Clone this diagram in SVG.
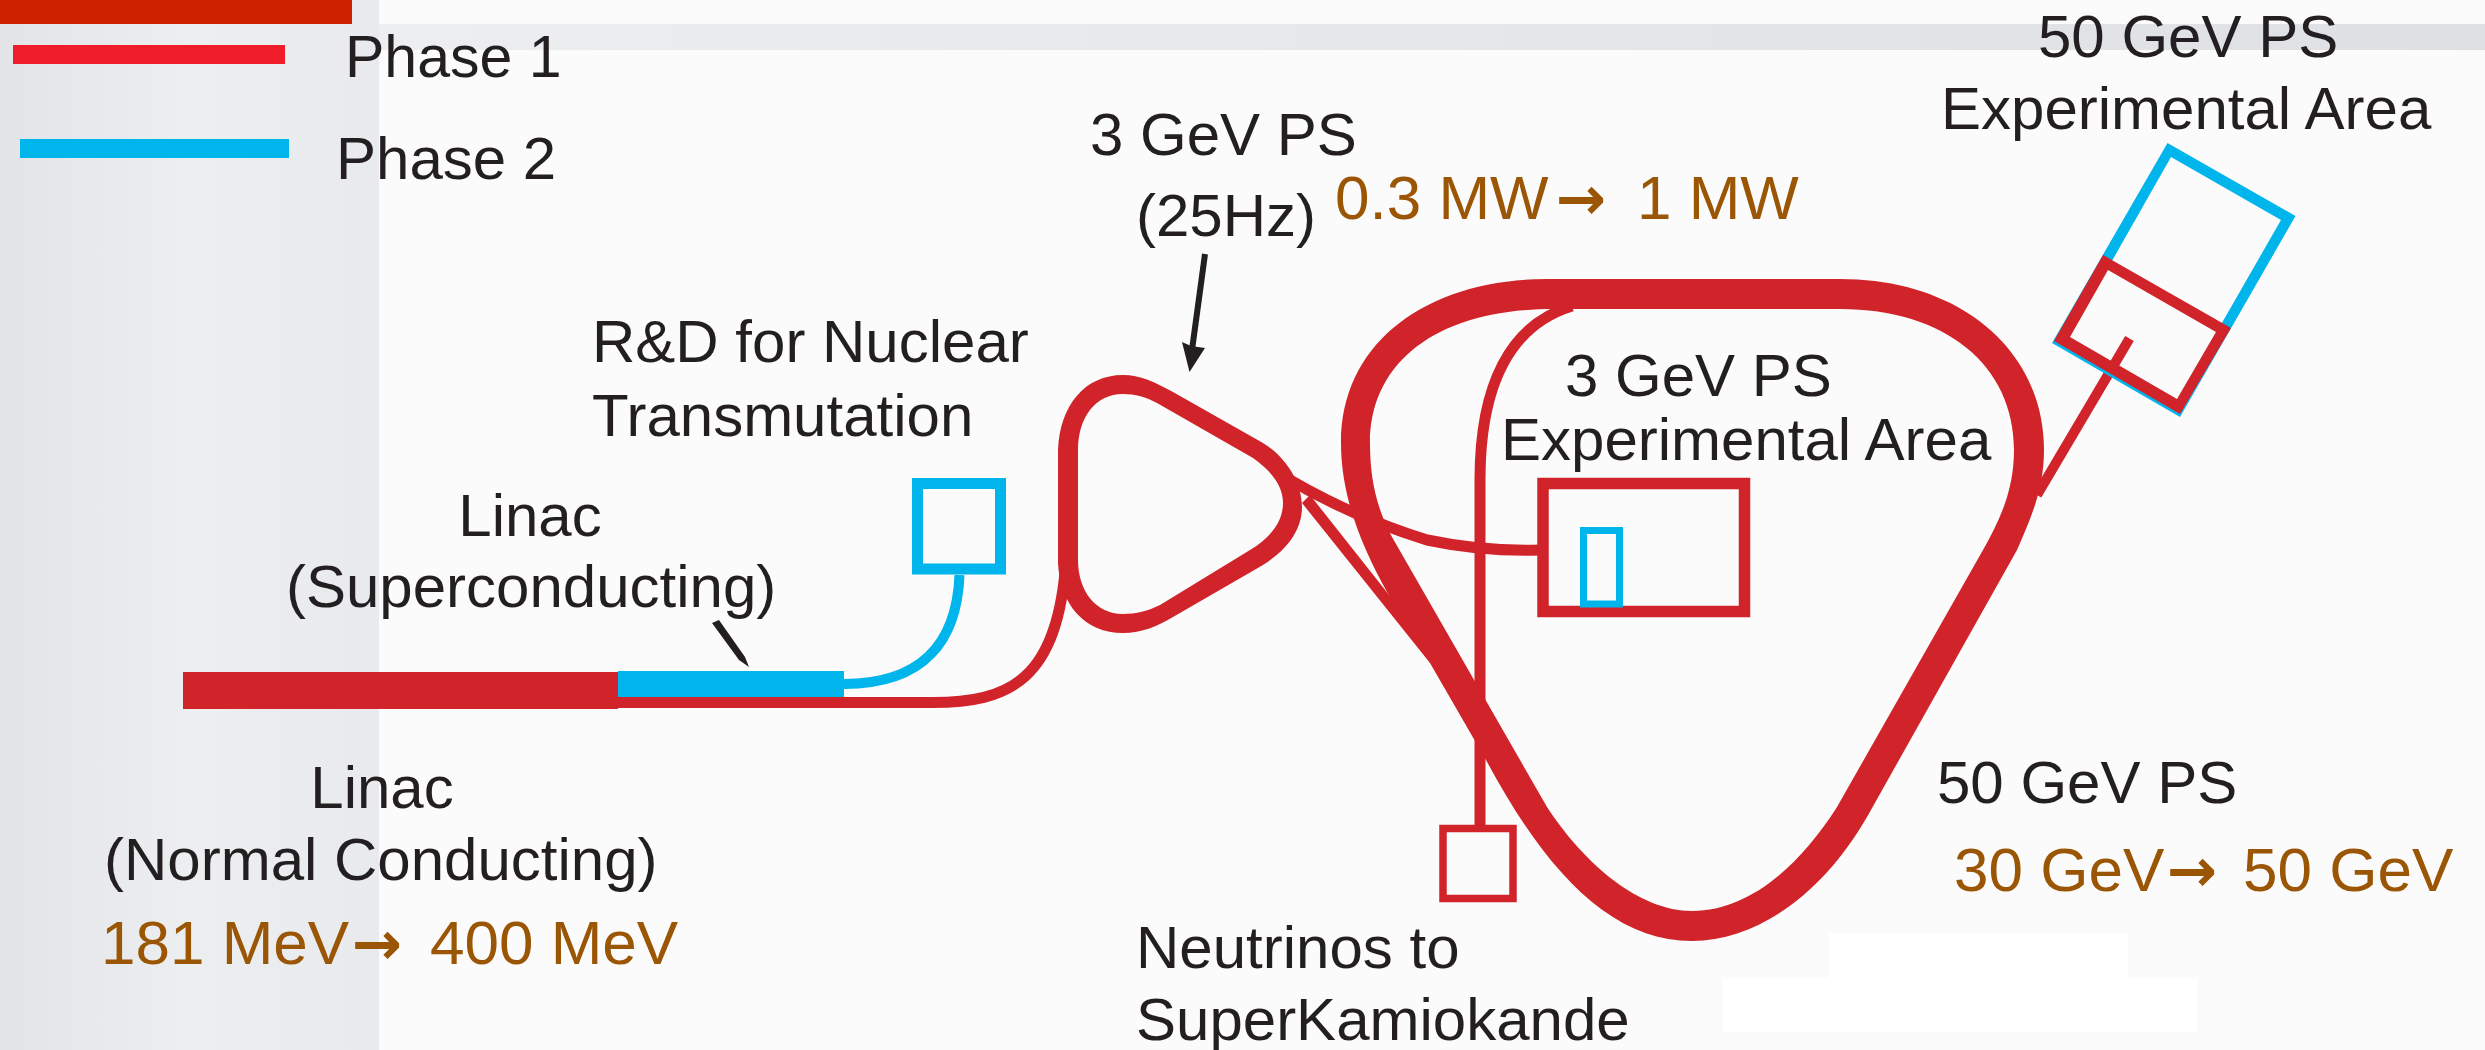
<svg xmlns="http://www.w3.org/2000/svg" width="2485" height="1050" viewBox="0 0 2485 1050">
<defs>
<linearGradient id="panel" x1="0" x2="1" y1="0" y2="0"><stop offset="0" stop-color="#e2e4e8"/><stop offset=".5" stop-color="#eceef0"/><stop offset="1" stop-color="#e8eaed"/></linearGradient>
<linearGradient id="band" x1="0" x2="1" y1="0" y2="0"><stop offset="0" stop-color="#eceef0"/><stop offset="1" stop-color="#dfe0e3"/></linearGradient>
</defs>
<style>
text{font-family:"Liberation Sans",Arial,sans-serif;font-size:60px;fill:#231f20}
.b{fill:#9a5505;font-size:62px}
.a{font-family:"DejaVu Sans",sans-serif;font-weight:bold;font-size:60px;fill:#9a5505}
.r{fill:#d1232a}
.c{fill:#00b4ec}
.ln{fill:none;stroke:#d1232a}
</style>
<rect width="2485" height="1050" fill="#fbfbfc"/>
<rect x="379" y="24" width="2106" height="26" fill="url(#band)"/>
<rect x="0" y="0" width="379" height="1050" fill="url(#panel)"/>
<rect x="1829" y="933" width="299" height="46" fill="#fff"/>
<rect x="1723" y="978" width="474" height="54" fill="#fff"/>
<g id="legend">
<rect x="0" y="0" width="352" height="24" fill="#cc2200"/>
<rect x="13" y="45" width="272" height="19" fill="#ef1c29"/>
<rect x="20" y="139" width="269" height="19" class="c"/>
<text x="345" y="77" style="font-size:59px">Phase 1</text>
<text x="336" y="179">Phase 2</text>
</g>
<g id="connectors">
<path class="ln" stroke-width="11" d="M930 702.500C1010 703 1058 680 1066 560"/>
<path fill="none" stroke="#00b4ec" stroke-width="10" d="M959.500 575C957 640 925 684 844 684"/>
<path class="ln" stroke-width="11" d="M1290 480C1340 509 1385 527 1427 540C1465 548 1505 551 1540 550"/>
<polygon class="r" points="1302,503 1430,663 1420,640 1397,605 1310,495"/>
<path class="ln" stroke-width="11" d="M1572 306C1510 325 1480 385 1480 480L1480 830"/>
<path class="ln" stroke-width="10" d="M2129.500 338.500L2037 495"/>
<path fill="none" stroke="#231f20" stroke-width="6" d="M1205 254L1192 350"/>
<polygon fill="#231f20" points="1189.500,372 1182,342 1191,346 1205,348"/>
<polygon fill="#231f20" points="712,623 719,620 745,657 749,667 739,660"/>
</g>
<g id="linac-normal"><rect x="183" y="672" width="435" height="37" class="r"/>
<text x="382" y="808" text-anchor="middle">Linac</text>
<text x="104" y="880">(Normal Conducting)</text>
<text y="964" class="b"><tspan x="101">181 MeV</tspan><tspan x="352" class="a">→</tspan><tspan x="430">400 MeV</tspan></text></g>
<g id="linac-superconducting">
<rect x="618" y="697" width="312" height="11" class="r"/>
<rect x="618" y="671" width="226" height="26" class="c"/>
<text x="530" y="536" text-anchor="middle">Linac</text>
<text x="286" y="607">(Superconducting)</text></g>
<g id="nuclear-transmutation">
<rect x="917.500" y="483.500" width="83" height="85.500" fill="none" stroke="#00b4ec" stroke-width="11"/>
<text x="592" y="362">R&amp;D for Nuclear</text>
<text x="592" y="436">Transmutation</text></g>
<g id="ps-3gev">
<path class="r" fill-rule="evenodd" d="M1058 450L1058 563C1060 605 1085 633 1123 633C1142 633 1158 626 1173 617L1263 565C1287 550 1302 530 1302 507C1302 480 1283 455 1263 443L1173 392C1155 382 1140 375 1123 375C1085 375 1060 405 1058 450ZM1078 450C1078 418 1095 394 1123 394C1135 394 1146 397 1157 403L1253 458C1270 470 1283 485 1283 503C1283 522 1270 538 1250 550L1160 605C1148 611 1136 614 1123 614C1095 614 1078 590 1078 560Z"/>
<text x="1090" y="155">3 GeV PS</text>
<text x="1136" y="236">(25Hz)</text>
<text y="219" class="b"><tspan x="1335">0.3 MW</tspan><tspan x="1556" class="a">→</tspan><tspan x="1637">1 MW</tspan></text></g>
<g id="ps-50gev">
<path class="r" fill-rule="evenodd" d="M1547 279L1840 279C1960 279 2044 350 2044 450C2044 490 2030 520 2017 550L1867 817C1825 890 1760 941 1692 941C1610 941 1545 870 1486 760L1430 663C1395 605 1341 530 1341 443C1341 340 1430 279 1547 279ZM1553 309L1840 309C1945 309 2014 365 2014 450C2014 490 2000 520 1983 550L1837 807C1800 865 1750 911 1692 911C1640 911 1585 865 1547 807L1392 537C1375 505 1370 475 1370 443C1370 360 1440 309 1553 309Z"/>
<text x="1937" y="803">50 GeV PS</text>
<text y="891" class="b"><tspan x="1954">30 GeV</tspan><tspan x="2167" class="a">→</tspan><tspan x="2243">50 GeV</tspan></text></g>
<g id="area-3gev">
<rect x="1543" y="483.500" width="201.500" height="128" fill="none" stroke="#d1232a" stroke-width="11.500"/>
<rect x="1583.500" y="530.500" width="36" height="73.500" fill="none" stroke="#00b4ec" stroke-width="7"/>
<text x="1565" y="396">3 GeV PS</text>
<text x="1501" y="460">Experimental Area</text></g>
<g id="area-50gev">
<path class="c" fill-rule="evenodd" d="M2167.500 143L2295.500 216L2180 417L2052 343ZM2171 157L2281 220L2176 403L2067 340Z"/>
<path class="r" fill-rule="evenodd" d="M2103 255L2231 328L2180 414L2054 341ZM2108 270L2216 332L2177 399L2070 337Z"/>
<text x="2038" y="57">50 GeV PS</text>
<text x="1941" y="129">Experimental Area</text></g>
<g id="neutrinos">
<rect x="1443" y="828.500" width="70" height="70" fill="#fbfbfc" stroke="#d1232a" stroke-width="7.500"/>
<text x="1136" y="968">Neutrinos to</text>
<text x="1136" y="1040">SuperKamiokande</text></g>
</svg>
